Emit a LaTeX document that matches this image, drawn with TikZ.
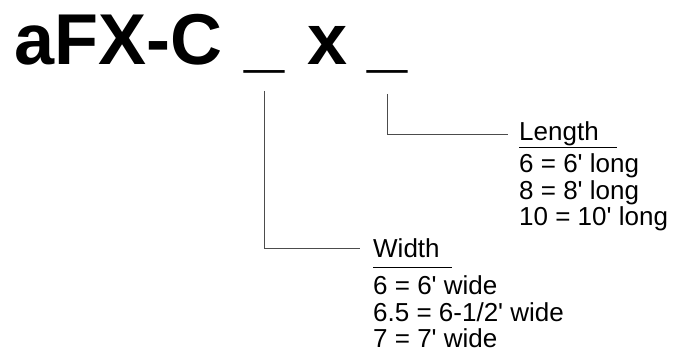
\documentclass[tikz,border=0pt]{standalone}
\usepackage{fontspec}
\setmainfont{Liberation Sans}
\usetikzlibrary{positioning}
\newcommand{\ftmark}{\textquotesingle}

\tikzset{
  lead/.style={draw=black!70, line width=0.8pt},
  rule/.style={draw=black, line width=0.9pt},
  big/.style={inner sep=0pt, font=\fontsize{72}{80}\selectfont\bfseries},
  head/.style={inner sep=0pt, anchor=base west, font=\fontsize{26}{27}\selectfont},
  opts/.style={inner sep=0pt, align=left, font=\fontsize{26}{26.8}\selectfont},
}

\begin{document}
\begin{tikzpicture}[x=1pt,y=-1pt]
  \useasboundingbox (0,0) rectangle (689,358);
  % part number
  \node[big, anchor=base west] (code) at (14,65) {aFX-C};
  \node[big, base right=22pt of code] (wbar) {\_};
  \node[big, base right=22pt of wbar] (times) {x};
  \node[big, base right=20pt of times] (lbar) {\_};

  % length options
  \node[head] (lenhead) at (519,141) {Length};
  \node[opts, below=85pt of lenhead.base west, anchor=base west] (lenlist)
    {6 = 6\ftmark{} long\\8 = 8\ftmark{} long\\10 = 10\ftmark{} long};
  \draw[rule] ([yshift=-6pt]lenhead.base west) -- ++(98,0);

  % width options
  \node[head] (widhead) at (373,258) {Width};
  \node[opts, below=90pt of widhead.base west, anchor=base west] (widlist)
    {6 = 6\ftmark{} wide\\6.5 = 6-1/2\ftmark{} wide\\7 = 7\ftmark{} wide};
  \draw[rule] ([yshift=-9pt]widhead.base west) -- ++(79,0);

  % leaders
  \draw[lead] ([yshift=-20pt]lbar.south) |- ([xshift=-11pt]lenhead.west);
  \draw[lead] ([yshift=-17pt]wbar.south) |- ([xshift=-13pt]widhead.west);
\end{tikzpicture}
\end{document}
